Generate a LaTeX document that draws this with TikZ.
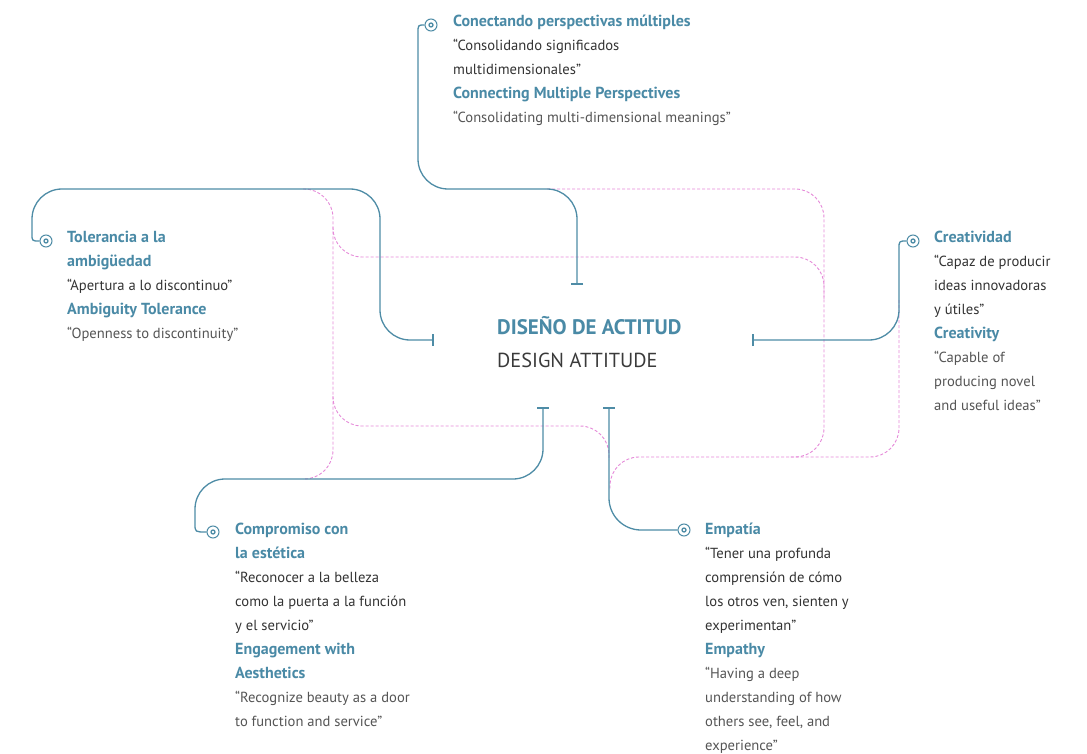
\documentclass[tikz,border=0pt]{standalone}
\usepackage{fontspec}
\setmainfont{PT Sans}
\usepackage{xcolor}
\usepackage{tikz}
\usetikzlibrary{arrows.meta}
\definecolor{accent}{HTML}{4A8AA6}
\definecolor{wire}{HTML}{4E8CA6}
\definecolor{trail}{HTML}{E68AD9}
\definecolor{quote}{HTML}{333333}
\definecolor{quoteen}{HTML}{555555}
\definecolor{subtitle}{HTML}{3A3A3A}
\tikzset{
  wire/.style={draw=wire, line width=1.3pt, line join=round},
  trail/.style={draw=trail, line width=0.9pt, dash pattern=on 3pt off 2pt, rounded corners=29pt},
  tee/.style={{Bar[width=12pt,line width=2.4pt]}-},
  marker/.style={circle, draw=wire, fill=white, line width=1pt, minimum size=12pt, inner sep=0pt,
    path picture={\fill[wire] (path picture bounding box.center) circle (2pt);}},
  block/.style={anchor=north west, inner sep=0pt, align=left, font=\fontsize{14.6}{24}\selectfont}
}
\newcommand{\Head}[1]{{\color{accent}\bfseries\fontsize{16}{24}\selectfont #1}}
\newcommand{\Es}[1]{{\color{quote}#1}}
\newcommand{\En}[1]{{\color{quoteen}#1}}

\begin{document}
\begin{tikzpicture}[x=1pt,y=-1pt]
  \fill[white] (0,0) rectangle (1087,754);
  \useasboundingbox (0,0) rectangle (1087,754);
  % dotted trails behind the wires
  \draw[trail] (303,189) -- (333,189) -- (333,479) -- (303,479);
  \draw[trail] (333,227) -- (333,257) -- (824,257) -- (824,300);
  \draw[trail] (333,396) -- (333,426) -- (609,426) -- (609,460);
  \draw[trail] (547,189) -- (824,189) -- (824,457) -- (610,457) -- (610,490);
  \draw[trail] (899,300) -- (899,457) -- (790,457);

  % centre
  \node[anchor=base west, inner sep=0pt, font=\bfseries\fontsize{21}{24}\selectfont, text=accent] (titleEs) at (497,334) {DISEÑO DE ACTITUD};
  \node[anchor=base west, inner sep=0pt, font=\fontsize{20.3}{24}\selectfont, text=subtitle] (titleEn) at (497,367) {DESIGN ATTITUDE};

  % wire ends
  \coordinate (tTop) at (577,285);
  \coordinate (tLeft) at (434,340);
  \coordinate (tRight) at (752,340);
  \coordinate (tBL) at (543,407);
  \coordinate (tBR) at (609,407);

  \node[marker] (mkTop) at (431,25) {};
  \node[marker] (mkLeft) at (46,241) {};
  \node[marker] (mkRight) at (913,241) {};
  \node[marker] (mkBL) at (213,532) {};
  \node[marker] (mkBR) at (684,530) {};

  \draw[wire,tee,rounded corners=30pt] (tTop) -- (577,189) -- (418,189) [sharp corners] -- (418,33) .. controls (418,25) .. (mkTop.west);
  \draw[wire,tee,rounded corners=30pt] (tLeft) -- (380,340) -- (380,189) -- (32,189) [sharp corners] -- (32,234) .. controls (32,241) .. (mkLeft.west);
  \draw[wire,tee,rounded corners=30pt] (tRight) -- (899,340) [sharp corners] -- (899,249) .. controls (899,241) .. (mkRight.west);
  \draw[wire,tee,rounded corners=30pt] (tBL) -- (543,479) -- (195,479) [sharp corners] -- (195,524) .. controls (195,532) .. (mkBL.west);
  \draw[wire,tee,rounded corners=32pt] (tBR) -- (609,530) -- (mkBR);

  % text blocks
  \node[block] (txtTop) at (453,9.2) {\strut\Head{Conectando perspectivas múltiples}\\
    \Es{“Consolidando significados}\\ \Es{multidimensionales”}\\
    \Head{Connecting Multiple Perspectives}\\
    \En{“Consolidating multi-dimensional meanings”}};
  \node[block] (txtLeft) at (67,225.2) {\strut\Head{Tolerancia a la}\\ \Head{ambigüedad}\\
    \Es{“Apertura a lo discontinuo”}\\
    \Head{Ambiguity Tolerance}\\
    \En{“Openness to discontinuity”}};
  \node[block] (txtRight) at (934,225.2) {\strut\Head{Creatividad}\\
    \Es{“Capaz de producir}\\ \Es{ideas innovadoras}\\ \Es{y útiles”}\\
    \Head{Creativity}\\
    \En{“Capable of}\\ \En{producing novel}\\ \En{and useful ideas”}};
  \node[block] (txtBL) at (235,517.2) {\strut\Head{Compromiso con}\\ \Head{la estética}\\
    \Es{“Reconocer a la belleza}\\ \Es{como la puerta a la función}\\ \Es{y el servicio”}\\
    \Head{Engagement with}\\ \Head{Aesthetics}\\
    \En{“Recognize beauty as a door}\\ \En{to function and service”}};
  \node[block] (txtBR) at (705,517.2) {\strut\Head{Empatía}\\
    \Es{“Tener una profunda}\\ \Es{comprensión de cómo}\\ \Es{los otros ven, sienten y}\\ \Es{experimentan”}\\
    \Head{Empathy}\\
    \En{“Having a deep}\\ \En{understanding of how}\\ \En{others see, feel, and}\\ \En{experience”}};
\end{tikzpicture}
\end{document}
